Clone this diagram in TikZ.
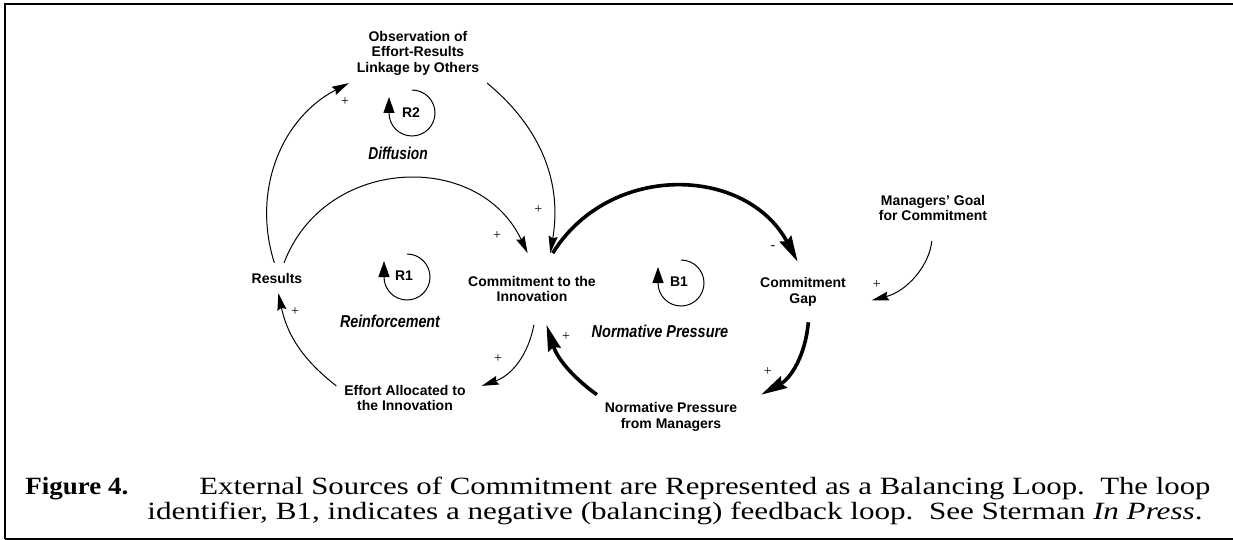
\documentclass[tikz,border=0pt]{standalone}
\usepackage{fontspec}
\setmainfont{Liberation Serif}
\setsansfont{Liberation Sans}
\usepackage{graphicx}
\usetikzlibrary{arrows.meta, positioning}
\tikzset{
  var/.style={font=\sffamily\bfseries\fontsize{7}{7.75}\selectfont,
    align=center, inner sep=1pt, outer sep=3pt},
  loopname/.style={font=\sffamily\bfseries\itshape\fontsize{8.6}{9}\selectfont, inner sep=0pt},
  loopid/.style={font=\sffamily\bfseries\fontsize{7}{8}\selectfont, inner sep=0pt},
  link/.style={-{Stealth[length=8.5pt, width=4.5pt, inset=1pt]}, line width=0.5pt},
  thicklink/.style={-{Stealth[length=13pt, width=6.5pt, inset=1.5pt]}, line width=1.8pt},
  loopsym/.style={-{Triangle[length=8pt, width=5.5pt]}, line width=0.5pt},
  polarity/.style={font=\fontsize{7}{8}\selectfont, inner sep=0pt},
  capline/.style={font=\fontsize{12.4}{15}\selectfont, inner sep=0pt, anchor=base west}
}

\begin{document}
\begin{tikzpicture}[x=0.5pt, y=0.5pt]
  \useasboundingbox (0,0) rectangle (1233,-540);

  % Frame
  \draw[line width=1pt] (1233,-4) -| (5,-539);
  \draw[line width=0.7pt] (5,-539) -- (1233,-539);

  % Variables
  \node[var] (obs) at (418,-53) {Observation of\\Effort-Results\\Linkage by Others};
  \node[var, outer sep=4pt] (res) at (277,-278) {Results};
  \node[var, outer sep=10.5pt] (com) at (532,-289) {Commitment to the\\Innovation};
  \node[var, outer sep=7pt] (gap) at (803,-292) {Commitment\\Gap};
  \node[var] (goal) at (933,-208) {Managers' Goal\\for Commitment};
  \node[var] (eff) at (405,-398) {Effort Allocated to\\the Innovation};
  \node[var] (nor) at (671,-417) {Normative Pressure\\from Managers};

  % Loop identifiers
  \node[loopid] (r2) at (411,-113) {R2};
  \draw[loopsym] ([xshift=0.5pt, yshift=11.5pt]r2.center) arc[start angle=90, end angle=-180, radius=11.5pt] -- ++(0,16);
  \node[loopid] (r1) at (404,-276) {R1};
  \draw[loopsym] ([xshift=1.5pt, yshift=11pt]r1.center) arc[start angle=90, end angle=-180, radius=11.5pt] -- ++(0,16);
  \node[loopid] (b1) at (679,-282) {B1};
  \draw[loopsym] ([xshift=1pt, yshift=11pt]b1.center) arc[start angle=90, end angle=-180, radius=11.5pt] -- ++(0,16);

  % Loop names
  \node[loopname] (diff) at (398,-153) {\scalebox{0.8}[1]{Diffusion}};
  \node[loopname] (reinf) at (390,-321) {\scalebox{0.83}[1]{Reinforcement}};
  \node[loopname] (normp) at (660,-331) {\scalebox{0.84}[1]{Normative Pressure}};

  % Links
  \draw[link] (res.100) to[bend left=40] node[polarity, pos=0.85, xshift=12pt] (s1) {+} (obs.south west);
  \draw[link] (obs.south east) to[bend left=30] node[polarity, pos=0.78, xshift=-7.5pt] (s2) {+} (com.63);
  \draw[link] (res.65) to[bend left=67, looseness=1.2] node[polarity, pos=0.9, xshift=-6.5pt, yshift=-5pt] (s3) {+} (com.97);
  \draw[link] (eff.170) to[bend left=20] node[polarity, pos=0.84, xshift=6pt] (s4) {+} (res.-85);
  \draw[link] (com.-87) to[bend left=30] node[polarity, pos=0.6, xshift=-6.5pt, yshift=5pt] (s5) {+} ([xshift=4pt]eff.10);
  \draw[thicklink] (com.60) to[bend left=60, looseness=1.13] node[polarity, pos=0.91, xshift=-4.5pt, yshift=-4.5pt] (s6) {-} (gap.100);
  \draw[thicklink] (gap.-80) to[bend left=28] node[polarity, pos=0.65, xshift=-9.5pt, yshift=2pt] (s7) {+} ([xshift=8pt]nor.north east);
  \draw[thicklink] (nor.north west) to[bend left=18] node[polarity, pos=0.8, xshift=6.5pt, yshift=3pt] (s8) {+} (com.-68);
  \draw[link, shorten <=6pt] (goal.south) to[bend left=35] node[polarity, pos=0.85, xshift=-5pt, yshift=5.5pt] (s9) {+} ([xshift=5pt]gap.-8);

  % Caption
  \node[capline] (fig) at (25,-494) {\resizebox{51.5pt}{\height}{\bfseries Figure 4.}};
  \node[capline] (cap1) at (199,-494) {\resizebox{505.5pt}{\height}{External Sources of Commitment are Represented as a Balancing Loop.\ \ The loop}};
  \node[capline] (cap2) at (147,-519) {\resizebox{527.5pt}{\height}{identifier, B1, indicates a negative (balancing) feedback loop.\ \ See Sterman \textit{In Press}.}};
\end{tikzpicture}
\end{document}
